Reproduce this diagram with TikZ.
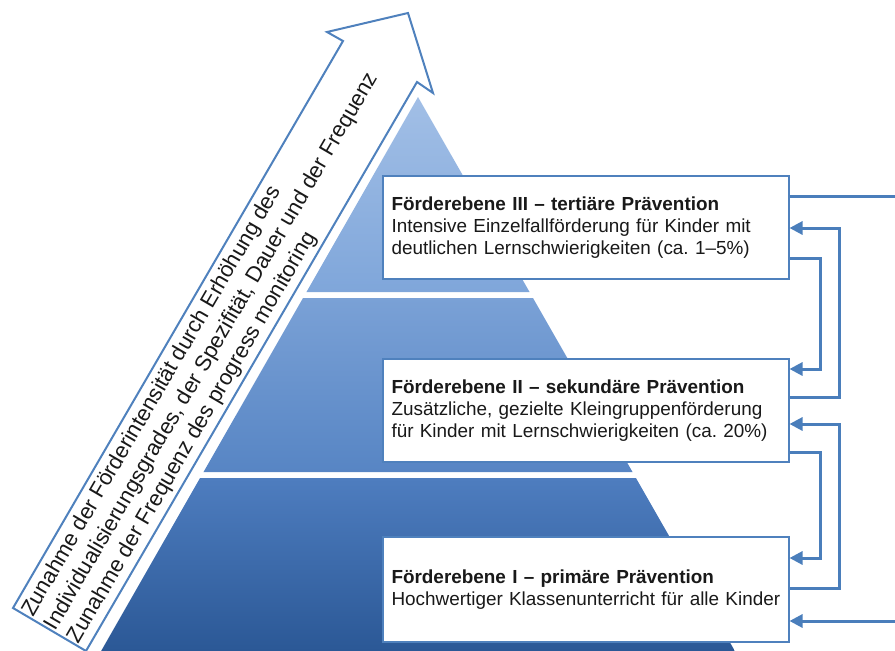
\documentclass[tikz,border=0pt]{standalone}
\usepackage{fontspec}
\setmainfont{Liberation Sans}
\usetikzlibrary{arrows.meta}
\definecolor{BoxBlue}{HTML}{4F81BD}
\definecolor{LinkBlue}{HTML}{4A7EBB}
\definecolor{TopA}{HTML}{A2BFE6}
\definecolor{TopB}{HTML}{7FA6DA}
\definecolor{MidA}{HTML}{7AA1D6}
\definecolor{MidB}{HTML}{5785C4}
\definecolor{BaseA}{HTML}{4E7DBF}
\definecolor{BaseB}{HTML}{2B5896}
\frenchspacing
\newcommand*{\boxtextstyle}{\fontsize{18.9}{22}\selectfont\color{black!90}}
\newcommand*{\trendtextstyle}{\fontsize{22}{26.5}\selectfont\color{black!90}}
\newcommand{\pyrtier}[4]{%
% top y, bottom y, top colour, bottom colour
  \pgfmathsetmacro{\tiertop}{#1}
  \pgfmathsetmacro{\tierbot}{#2}
  \pgfmathsetmacro{\halftop}{0.572*(\tiertop-97)}
  \pgfmathsetmacro{\halfbot}{0.572*(\tierbot-97)}
  \shade[top color=#3, bottom color=#4]
    (418-\halftop,\tiertop) -- (418+\halftop,\tiertop)
    -- (418+\halfbot,\tierbot) -- (418-\halfbot,\tierbot) -- cycle;
}

\begin{document}
\begin{tikzpicture}[x=1pt, y=-1pt,
  levelbox/.style={draw=BoxBlue, line width=2pt, fill=white, inner xsep=9pt,
    text width=388pt, align=left, minimum height=103pt, font=\boxtextstyle},
  link/.style={draw=LinkBlue, line width=3pt},
  flow/.style={link, -{Triangle[length=13pt, width=13pt]}}]
  \useasboundingbox (0,0) rectangle (895,651);
  % pyramid
  \pyrtier{97}{292}{TopA}{TopB}
  \pyrtier{298}{472}{MidA}{MidB}
  \pyrtier{478}{651}{BaseA}{BaseB}
  % big arrow
  \filldraw[fill=white, draw=BoxBlue, line width=2pt]
    (13,608) -- (343,41) -- (327,32) -- (408,13) -- (433,93)
    -- (417,82) -- (86,651) -- cycle;
  \node[rotate=59.8, anchor=north west, align=left, inner sep=0pt,
    font=\trendtextstyle] (trend) at (19,610)
    {Zunahme der Förderintensität durch Erhöhung des\\
     Individualisierungsgrades, der Spezifität, Dauer und der Frequenz\\
     Zunahme der Frequenz des progress monitoring};
  % levels
  \node[levelbox] (l3) at (585.5,227.5)
    {\textbf{Förderebene III – tertiäre Prävention}\\
     Intensive Einzelfallförderung für Kinder mit\\
     deutlichen Lernschwierigkeiten (ca. 1–5\%)};
  \node[levelbox] (l2) at (585.5,410.5)
    {\textbf{Förderebene II – sekundäre Prävention}\\
     Zusätzliche, gezielte Kleingruppenförderung\\
     für Kinder mit Lernschwierigkeiten (ca. 20\%)};
  \node[levelbox, minimum height=105pt] (l1) at (585.5,589.5)
    {\textbf{Förderebene I – primäre Prävention}\\
     \mbox{Hochwertiger Klassenunterricht für alle Kinder}};
  % connectors
  \coordinate (out3) at (895,196);
  \coordinate (in1) at (895,621);
  \draw[link] ([yshift=31.5]l3.east) -- (out3);
  \draw[flow] ([yshift=13.5]l2.east) -- ++(50,0) |- ([yshift=-0.5]l3.east);
  \draw[flow] ([yshift=-30.5]l3.east) -- ++(31,0) |- ([yshift=41.5]l2.east);
  \draw[flow] ([yshift=-41.5]l2.east) -- ++(31,0) |- ([yshift=31.5]l1.east);
  \draw[flow] ([yshift=1.5]l1.east) -- ++(50,0) |- ([yshift=-13.5]l2.east);
  \draw[flow] (in1) -- ([yshift=-31.5]l1.east);
\end{tikzpicture}
\end{document}
